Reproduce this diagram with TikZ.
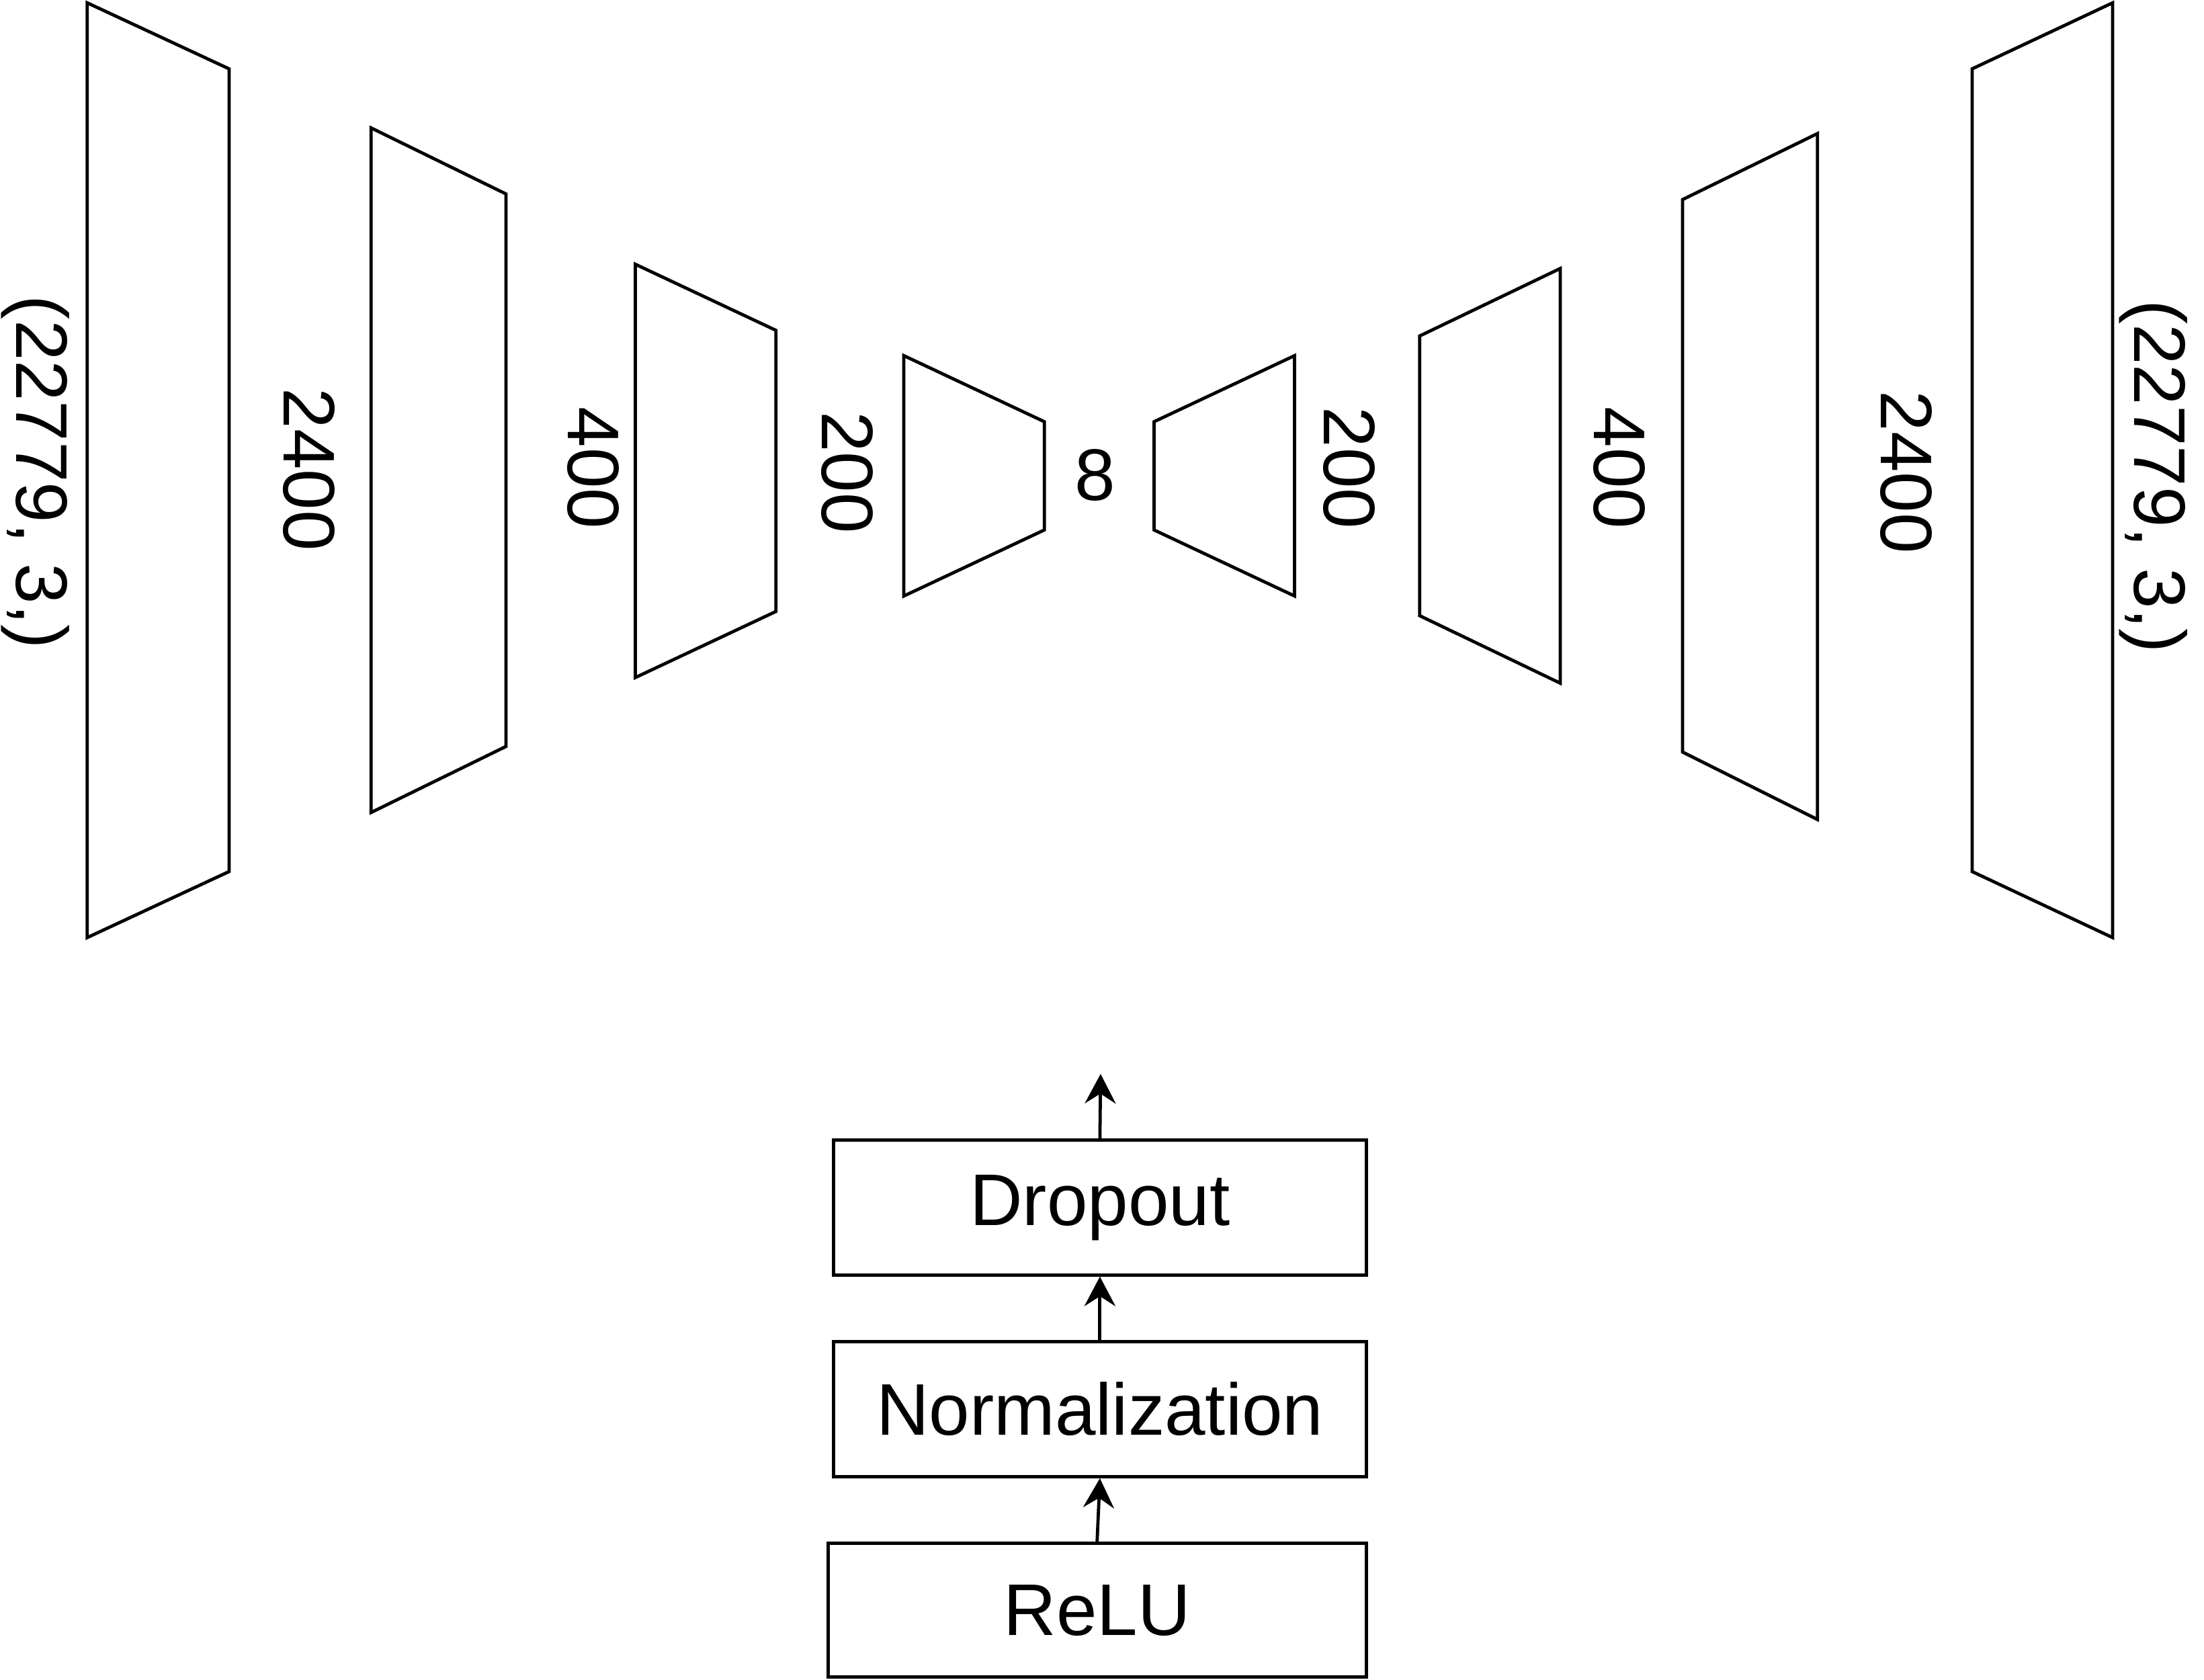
\documentclass[tikz,border=0pt]{standalone}
\usepackage{fontspec}
\setmainfont{Liberation Sans}
\usetikzlibrary{arrows.meta}
\begin{document}
\begin{tikzpicture}[x=0.02cm,y=-0.02cm,
  layer/.style={draw=black,line width=1.3pt,line join=miter},
  lbl/.style={font=\fontsize{29.6}{35}\selectfont,inner sep=0pt},
  rlbl/.style={lbl,rotate=-90},
  opbox/.style={draw=black,line width=1.3pt,minimum width=7.58cm,minimum height=1.92cm,inner sep=0pt,font=\fontsize{29.6}{35}\selectfont},
  flow/.style={line width=1.3pt,-{Stealth[length=4.2mm,width=4.4mm,inset=1.4mm]}}]
\useasboundingbox (0,0) rectangle (1568,1195);
% encoder
\draw[layer] (62,2) -- (163,49) -- (163,620) -- (62,667) -- cycle;
\draw[layer] (264,91) -- (360,138) -- (360,531) -- (264,578) -- cycle;
\draw[layer] (452,188) -- (552,235) -- (552,435) -- (452,482) -- cycle;
\draw[layer] (643,253) -- (743,300) -- (743,377) -- (643,424) -- cycle;
% decoder
\draw[layer] (821,300) -- (921,253) -- (921,424) -- (821,377) -- cycle;
\draw[layer] (1010,239) -- (1110,191) -- (1110,486) -- (1010,438) -- cycle;
\draw[layer] (1197,142) -- (1293,95) -- (1293,583) -- (1197,535) -- cycle;
\draw[layer] (1403,49) -- (1503,2) -- (1503,667) -- (1403,620) -- cycle;
% labels
\node[rlbl] (lin) at (25,336) {(22779, 3,)};
\node[rlbl] (l1) at (220,334) {2400};
\node[rlbl] (l2) at (422,333) {400};
\node[rlbl] (l3) at (603,336) {200};
\node[lbl] (lz) at (779,338) {8};
\node[rlbl] (r3) at (960,333) {200};
\node[rlbl] (r2) at (1152,333) {400};
\node[rlbl] (r1) at (1356,336) {2400};
\node[rlbl] (rout) at (1532,339) {(22779, 3,)};
% block
\node[opbox] (drop) at (782.5,859) {Dropout};
\node[opbox] (norm) at (782.5,1002.5) {Normalization};
\node[opbox,minimum width=7.66cm,minimum height=1.9cm] (relu) at (780.5,1145.5) {ReLU};
\coordinate (out) at (783,764);
\draw[flow] (relu.north) -- (norm.south);
\draw[flow] (norm.north) -- (drop.south);
\draw[flow] (drop.north) -- (out);
\end{tikzpicture}
\end{document}
